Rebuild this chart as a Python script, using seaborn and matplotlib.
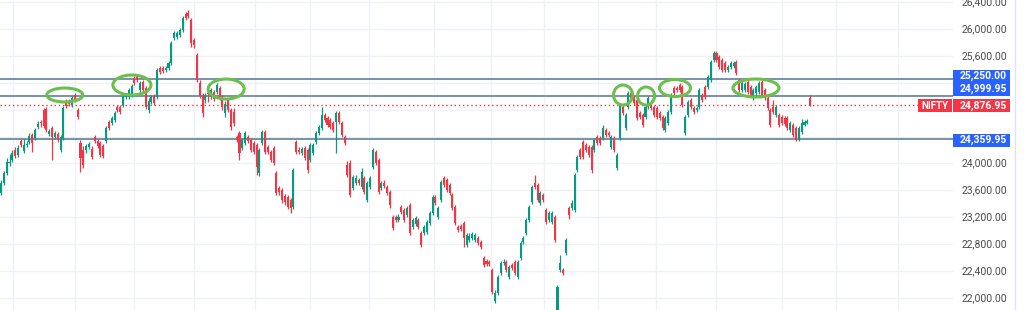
import numpy as np
import pandas as pd
import matplotlib
matplotlib.use("Agg")
import matplotlib.pyplot as plt
import matplotlib.transforms as mtransforms
from matplotlib.patches import Ellipse, Rectangle
from matplotlib.lines import Line2D
import seaborn as sns

# ---------------- data (NIFTY daily candles) ----------------
opens = [
    23561, 23710, 23858, 24007, 24052, 24201, 24126, 24334, 24186, 24275, 24320, 24424, 24379, 24543, 24617, 24796, 24810, 24438, 24528, 24394, 24438, 24201, 24379, 24929, 24929, 24870, 25018, 24796,
    24305, 24201, 24201, 24245, 24216, 24394, 24334, 24305, 24260, 24334, 24617, 24602, 24647, 24840, 24840, 24870, 24989, 24989, 25018, 25271, 25286, 25093, 25212, 25122, 24796, 24914, 25003, 24989, 25420, 25420, 25390, 25420, 25494, 25866, 25881, 25911, 25985, 26223, 26238,
    26134, 25836, 25613, 25197, 25018, 24944, 25048, 24989, 25063, 25063, 25122, 24989, 24751, 24944, 24796, 24766, 24394, 24453, 24230, 24305, 24394, 24349, 24305, 24275, 23858, 24305, 24468, 24245, 24171, 24230, 23858, 23635, 23606, 23517, 23502, 23457, 23354,
    24320, 24201, 24156, 24230, 24201, 24052, 24156, 24320, 24453, 24528, 24721, 24676, 24647, 24602, 24617, 24751, 24602, 24394, 23977, 24007, 23635, 23710, 23755, 23650, 23784, 23457, 23650, 23948, 24171, 24052, 23635, 23710, 23650, 23576, 23204, 23204, 23160, 23354, 23308, 23234, 23383, 23056, 23100, 23160, 22966, 22966, 22981, 23115, 23264, 23502, 23204, 23457, 23784, 23755, 23680, 23531, 23354, 23056, 23071, 23115, 22788, 22862, 22892, 22862, 22892, 22832, 22595, 22550, 22535, 22416, 21955,
    22074, 22371, 22520, 22535, 22312, 22490, 22535, 22312, 22595, 22832, 22966, 23160, 23427, 23710, 23680, 23412, 23531, 23308, 23160, 23130, 23204, 21762, 22416, 22416, 22669, 23339, 23339, 23308, 23903, 24201,
    24320, 24275, 24245, 24245, 24201, 24394, 24379, 24379, 24498, 24453, 24245, 24379, 23933, 24379, 24840, 24528, 24840, 25048, 24989, 24944, 24751, 24721, 24691, 24840, 24914, 24840, 24825, 24751, 24691, 24498,
    24602, 24766, 25122, 25122, 25167, 25137, 24453, 24721, 24944, 24825, 24796, 24840, 25018, 25137, 25137, 25242, 25539, 25643, 25583, 25539, 25494, 25390, 25435, 25450, 25509, 25242, 25093, 25093, 25212, 25137,
    24974, 25048, 25063, 25212, 25093, 24974, 24796, 24840, 24721, 24721, 24691, 24676, 24676, 24498, 24572, 24528, 24349, 24468, 24572, 24602, 24974,
]
highs = [
    23755, 23888, 24082, 24141, 24201, 24245, 24275, 24364, 24364, 24334, 24453, 24453, 24528, 24632, 24647, 24825, 24840, 24513, 24558, 24483, 24468, 24424, 24855, 24959, 24959, 25003, 25048, 24825,
    24349, 24260, 24290, 24320, 24260, 24424, 24364, 24334, 24290, 24558, 24647, 24706, 24781, 24870, 24870, 25018, 25048, 25122, 25182, 25301, 25316, 25227, 25242, 25152, 24974, 25018, 25033, 25420, 25450, 25450, 25450, 25524, 25821, 25970, 25970, 26015, 26193, 26253, 26282,
    26163, 25866, 25643, 25242, 25048, 25048, 25078, 25122, 25093, 25197, 25152, 25018, 24929, 24974, 24825, 24825, 24424, 24483, 24379, 24483, 24424, 24379, 24334, 24305, 24230, 24498, 24498, 24275, 24201, 24260, 23888, 23665, 23635, 23546, 23531, 23487, 23933,
    24349, 24245, 24245, 24260, 24230, 24305, 24305, 24483, 24572, 24840, 24751, 24706, 24676, 24632, 24781, 24781, 24632, 24424, 24037, 24052, 23829, 23829, 23784, 23933, 23814, 23740, 23814, 24230, 24201, 24082, 23740, 23755, 23680, 23606, 23234, 23234, 23249, 23383, 23339, 23368, 23412, 23189, 23219, 23189, 22996, 23086, 23160, 23294, 23531, 23531, 23368, 23755, 23814, 23784, 23710, 23561, 23383, 23086, 23100, 23145, 22966, 22966, 22981, 22966, 22922, 22862, 22624, 22580, 22565, 22446, 22119,
    22342, 22550, 22580, 22565, 22490, 22520, 22565, 22565, 22847, 22922, 23189, 23383, 23680, 23829, 23710, 23591, 23561, 23339, 23294, 23294, 23234, 22193, 22639, 22446, 22892, 23368, 23457, 23858, 24126, 24230,
    24349, 24305, 24275, 24275, 24379, 24424, 24409, 24572, 24528, 24483, 24424, 24409, 24156, 24899, 24870, 24751, 25078, 25078, 25018, 24974, 24781, 24751, 24870, 25003, 24944, 24870, 24855, 24781, 24721, 24706,
    24796, 25048, 25152, 25152, 25197, 25167, 24721, 24944, 24974, 24855, 24855, 25122, 25048, 25167, 25316, 25539, 25673, 25673, 25613, 25568, 25524, 25464, 25524, 25524, 25539, 25271, 25227, 25212, 25242, 25167,
    25122, 25167, 25227, 25242, 25122, 25003, 24825, 24944, 24870, 24751, 24721, 24706, 24706, 24632, 24602, 24558, 24558, 24662, 24647, 24662, 25018,
]
lows = [
    23531, 23680, 23829, 23963, 24022, 24082, 24097, 24245, 24156, 24245, 24290, 24171, 24349, 24513, 24543, 24528, 24468, 24409, 24052, 24364, 24320, 24171, 24349, 24825, 24855, 24840, 24914, 24662,
    23873, 23933, 24156, 24216, 24067, 24305, 24230, 24097, 24082, 24305, 24498, 24572, 24617, 24766, 24736, 24840, 24959, 24959, 24989, 25167, 25212, 25063, 25063, 24810, 24751, 24884, 24870, 24959, 25331, 25346, 25360, 25390, 25464, 25836, 25851, 25881, 25955, 26134, 26163,
    25732, 25717, 25212, 24974, 24691, 24899, 24914, 24959, 24929, 25033, 24944, 24796, 24691, 24766, 24498, 24558, 24320, 24052, 24201, 24275, 24305, 24171, 24141, 23829, 23814, 24275, 24141, 24141, 24022, 23977, 23531, 23531, 23412, 23383, 23323, 23264, 23323,
    24141, 24141, 24126, 24052, 23858, 24022, 24126, 24290, 24424, 24498, 24617, 24543, 24513, 24468, 24156, 24587, 24394, 24275, 23799, 23502, 23606, 23680, 23680, 23621, 23546, 23427, 23621, 23918, 23977, 23546, 23606, 23635, 23531, 23339, 23011, 23130, 23130, 23249, 23130, 23204, 22937, 23026, 23071, 23026, 22758, 22937, 22952, 23086, 23234, 23383, 23175, 23427, 23650, 23576, 23531, 23308, 23086, 22981, 22996, 22758, 22758, 22832, 22862, 22832, 22788, 22728, 22461, 22475, 22475, 22059, 21925,
    22044, 22342, 22490, 22386, 22282, 22416, 22342, 22282, 22565, 22803, 22937, 23130, 23398, 23621, 23427, 23383, 23427, 23100, 23130, 23100, 22832, 21747, 22386, 22342, 22639, 23175, 23308, 23279, 23873, 24067,
    24067, 24171, 24097, 23858, 24171, 24275, 24275, 24349, 24394, 24394, 24216, 24171, 23903, 24349, 24721, 24498, 24810, 24944, 24870, 24647, 24662, 24543, 24662, 24810, 24796, 24691, 24662, 24647, 24498, 24468,
    24572, 24736, 25018, 25063, 25063, 24840, 24424, 24691, 24810, 24736, 24766, 24810, 24914, 24959, 25107, 25212, 25509, 25509, 25405, 25360, 25360, 25360, 25405, 25420, 25316, 25063, 25063, 25063, 25033, 24989,
    24944, 25018, 25033, 24989, 24944, 24796, 24543, 24736, 24691, 24543, 24572, 24558, 24498, 24468, 24394, 24334, 24334, 24438, 24558, 24587, 24855,
]
closes = [
    23710, 23858, 24022, 24022, 24156, 24112, 24230, 24275, 24275, 24290, 24409, 24305, 24498, 24587, 24602, 24558, 24498, 24483, 24394, 24453, 24349, 24394, 24825, 24855, 24884, 24974, 24944, 24691,
    24082, 23977, 24260, 24290, 24097, 24334, 24260, 24126, 24112, 24528, 24528, 24676, 24751, 24796, 24766, 24989, 25018, 25093, 25152, 25197, 25242, 25197, 25093, 24840, 24929, 24989, 24899, 25390, 25360, 25375, 25420, 25494, 25792, 25940, 25940, 25985, 26163, 26163, 26193,
    25792, 25762, 25242, 25003, 24751, 25018, 25033, 25093, 24959, 25167, 24974, 24840, 24884, 24796, 24543, 24602, 24349, 24156, 24349, 24453, 24334, 24201, 24171, 23948, 24201, 24468, 24171, 24171, 24052, 24007, 23561, 23576, 23457, 23427, 23354, 23339, 23903,
    24171, 24171, 24216, 24082, 23903, 24275, 24275, 24453, 24543, 24721, 24647, 24572, 24543, 24498, 24751, 24617, 24424, 24305, 23829, 23531, 23799, 23784, 23710, 23873, 23576, 23710, 23784, 24201, 24007, 23576, 23710, 23665, 23561, 23383, 23041, 23160, 23204, 23279, 23160, 23339, 22966, 23160, 23189, 23056, 22788, 23056, 23130, 23264, 23502, 23412, 23339, 23725, 23680, 23606, 23561, 23339, 23115, 23011, 23026, 22892, 22937, 22922, 22952, 22937, 22818, 22758, 22490, 22505, 22505, 22089, 22074,
    22312, 22520, 22535, 22416, 22461, 22446, 22371, 22535, 22818, 22892, 23160, 23354, 23650, 23650, 23457, 23561, 23457, 23130, 23264, 23264, 22862, 22163, 22520, 22371, 22862, 23234, 23412, 23829, 24097, 24097,
    24097, 24201, 24126, 23903, 24349, 24305, 24305, 24528, 24424, 24424, 24394, 24201, 24126, 24870, 24751, 24721, 25048, 24974, 24899, 24676, 24691, 24572, 24840, 24974, 24825, 24721, 24691, 24676, 24528, 24676,
    24766, 25018, 25048, 25093, 25093, 24870, 24691, 24914, 24840, 24766, 24825, 25093, 24944, 24989, 25286, 25509, 25643, 25539, 25435, 25390, 25390, 25435, 25494, 25494, 25346, 25093, 25197, 25182, 25063, 25018,
    25093, 25137, 25197, 25018, 24974, 24825, 24572, 24766, 24840, 24572, 24602, 24587, 24528, 24602, 24424, 24349, 24528, 24602, 24617, 24632, 24876.95,
]

level_prices = [25250.00, 24999.95, 24359.95]      # drawn horizontal levels
last_price = 24876.95
symbol = "NIFTY"
price_ticks = [22000, 22400, 22800, 23200, 23600, 24000, 24400, 24800, 25200, 25600, 26000, 26400]
month_grid = [4.2, 26.1, 46.8, 68.0, 89.5, 108.8, 129.6, 152.5, 172.6, 191.3, 210.3, 230.7, 251.8, 275.1, 294.1, 316.0]
# hand-drawn green circles (centre candle index, centre price, width in candles, height in points)
circle_x = [22.5, 46.1, 79.3, 219.1, 227.2, 237.4, 265.9]
circle_y = [25018, 25167, 25107, 25018, 25003, 25122, 25122]
circle_w = [12.7, 13.4, 12.7, 6.7, 6.0, 10.9, 16.2]
circle_h = [208, 297, 297, 297, 268, 253, 268]

assert len(opens) == len(highs) == len(lows) == len(closes)

df = pd.DataFrame({"open": opens, "high": highs, "low": lows, "close": closes})
df["idx"] = np.arange(len(df))
df["up"] = df["close"] >= df["open"]

GREEN = "#089981"
RED = "#f23645"
BLUE = "#2962ff"
LEVEL = "#5f7f9c"
GRID = "#eef1f6"
CIRCLE = "#6cbf4c"

sns.set_theme(style="white")
plt.rcParams["font.family"] = ["Roboto", "DejaVu Sans"]

W, H = 1024, 310
fig = plt.figure(figsize=(W / 100, H / 100), dpi=100)
fig.patch.set_facecolor("white")
ax = fig.add_axes([0, 0, 953 / W, 1])
ax.set_facecolor("white")
ymin, ymax = 21821, 26431
ax.set_ylim(ymin, ymax)
ax.set_xlim(-0.35, 335.3)
for s in ax.spines.values():
    s.set_visible(False)
ax.set_xticks([])
ax.set_yticks([])

# grid
for v in month_grid:
    ax.axvline(v, color=GRID, lw=1.0, zorder=0)
for t in price_ticks:
    ax.axhline(t, color=GRID, lw=1.0, zorder=0)

# levels
for p in level_prices:
    ax.axhline(p, color=LEVEL, lw=1.2, zorder=2)
ax.axhline(last_price, color=RED, lw=1.0, ls=(0, (1, 2)), zorder=2)

# candles
for flag, col in ((True, GREEN), (False, RED)):
    sub = df[df["up"] == flag]
    lo = sub[["low", "open", "close"]].min(axis=1)
    hi = sub[["high", "open", "close"]].max(axis=1)
    ax.vlines(sub["idx"], lo, hi, color=col, lw=0.9, zorder=3)
    body = np.maximum((sub["close"] - sub["open"]).abs(), 16)
    ax.bar(sub["idx"], body, bottom=np.minimum(sub["open"], sub["close"]),
           width=0.72, color=col, linewidth=0, zorder=4)

# annotations
for cx, cy, w, h in zip(circle_x, circle_y, circle_w, circle_h):
    ax.add_patch(Ellipse((cx, cy), w, h, fill=False, ec=CIRCLE, lw=2.2, zorder=6))

# price scale
tr = mtransforms.blended_transform_factory(fig.transFigure, ax.transData)
per_px = (ymax - ymin) / H
box_h = 13 * per_px
labels = [(level_prices[0], BLUE, 3.4), (level_prices[1], BLUE, 7.0),
          (last_price, RED, -1.0), (level_prices[2], BLUE, -1.0)]
box_centres = [p + off * per_px for p, _, off in labels]

for t in price_ticks:
    # a tick label hidden behind a coloured price tag is not shown
    if any(abs(t - c) < 11 * per_px for c in box_centres):
        continue
    fig.text(1007 / W, t, f"{t:,.2f}", transform=tr, ha="right", va="center",
             fontsize=7.5, color="#4a4a4a")

for (price, col, off), yc in zip(labels, box_centres):
    fig.add_artist(Rectangle((953 / W, yc - box_h / 2), 57 / W, box_h, transform=tr,
                             facecolor=col, edgecolor="none", zorder=10))
    fig.text(1007 / W, yc, f"{price:,.2f}", transform=tr, ha="right", va="center",
             fontsize=7.5, color="white", fontweight="semibold", zorder=11)
yc = box_centres[2]
fig.add_artist(Rectangle((918 / W, yc - box_h / 2), 34 / W, box_h, transform=tr,
                         facecolor=RED, edgecolor="none", zorder=10))
fig.text(935 / W, yc, symbol, transform=tr, ha="center", va="center",
         fontsize=7, color="white", fontweight="semibold", zorder=11)

fig.add_artist(Line2D([1015 / W, 1015 / W], [0, 1], transform=fig.transFigure,
                      color="#e0e3eb", lw=1))

fig.savefig("out.png", dpi=100, facecolor="white")
